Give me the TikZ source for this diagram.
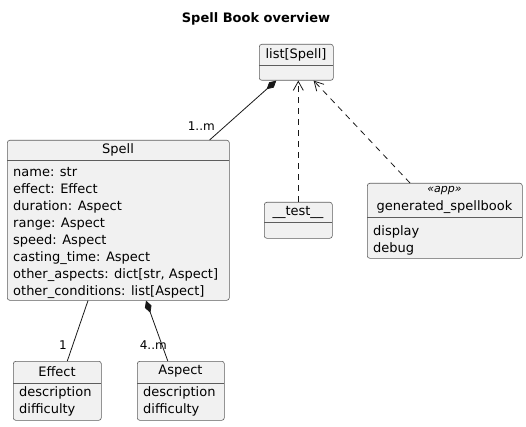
\documentclass[tikz,border=0pt]{standalone}
\usepackage{fontspec}
\setmainfont{DejaVu Sans}
\usetikzlibrary{arrows.meta}
\definecolor{boxfill}{HTML}{F1F1F1}
\definecolor{boxline}{HTML}{181818}
\tikzset{
  box/.style={draw=boxline!70, fill=boxfill, line width=0.6pt, rounded corners=2.5pt, inner sep=0pt, anchor=north west},
  sep/.style={draw=boxline!70, line width=0.6pt},
  txt/.style={inner sep=0pt, font=\fontsize{13}{16}\selectfont},
  attr/.style={txt, anchor=west, align=left, font=\fontsize{13}{17}\selectfont},
  lbl/.style={inner sep=0pt, font=\fontsize{12}{14}\selectfont},
  conn/.style={draw=boxline, line width=0.8pt},
  dashconn/.style={conn, dash pattern=on 6pt off 5pt},
  openarr/.style={-{Straight Barb[length=9pt,width=10pt,line width=0.8pt]}},
  diamtip/.style={-{Diamond[length=13pt,width=7pt,fill=boxline]}},
}
\begin{document}
\begin{tikzpicture}[x=1pt,y=-1pt]
\useasboundingbox (0,0) rectangle (526,427);
\node[inner sep=0pt, font=\fontsize{13}{16}\selectfont\bfseries] (title) at (256,19) {Spell Book overview};

% list[Spell]
\node[box, minimum width=74pt, minimum height=36pt] (list) at (259,44) {};
\draw[sep] (259,65) -- (333,65);
\node[txt] (listname) at (296,54.5) {list[Spell]};

% Spell
\node[box, minimum width=222pt, minimum height=160pt] (spell) at (7,140) {};
\draw[sep] (7,160) -- (229,160);
\node[txt] (spellname) at (118,150) {Spell};
\node[attr] (spellattr) at (13,233) {name: str\\effect: Effect\\duration: Aspect\\range: Aspect\\speed: Aspect\\casting\_time: Aspect\\other\_aspects: dict[str, Aspect]\\other\_conditions: list[Aspect]};

% __test__
\node[box, minimum width=68pt, minimum height=36pt] (test) at (264,202) {};
\draw[sep] (264,222) -- (332,222);
\node[txt] (testname) at (298,212) {\_\_test\_\_};

% generated_spellbook
\node[box, minimum width=155pt, minimum height=75pt] (gen) at (367,183) {};
\draw[sep] (367,217) -- (522,217);
\node[inner sep=0pt, font=\fontsize{11}{13}\selectfont\itshape] (genst) at (444.5,191) {«app»};
\node[txt] (genname) at (444.5,207) {generated\_spellbook};
\node[attr] (genattr) at (373,240) {display\\debug};

% Effect
\node[box, minimum width=88pt, minimum height=59pt] (effect) at (13,361) {};
\draw[sep] (13,383) -- (101,383);
\node[txt] (effectname) at (57,371.5) {Effect};
\node[attr] (effectattr) at (19,401.5) {description\\difficulty};

% Aspect
\node[box, minimum width=87pt, minimum height=59pt] (aspect) at (137,361) {};
\draw[sep] (137,383) -- (224,383);
\node[txt] (aspectname) at (180.5,371.5) {Aspect};
\node[attr] (aspectattr) at (143,401.5) {description\\difficulty};

% connectors
\draw[conn, diamtip] ([xshift=-20pt]spell.north east) -- ([xshift=-20pt]list.south);
\node[lbl, anchor=east] (l1) at (215,126) {1..m};
\draw[dashconn, openarr] (test.north) -- (test.north |- list.south);
\draw[dashconn, openarr] ([xshift=43pt]gen.north west) -- ([xshift=-20pt]list.south east);
\draw[conn] ([xshift=81pt]spell.south west) -- ([xshift=10pt]effect.north);
\node[lbl, anchor=east] (l2) at (67,345) {1};
\draw[conn, diamtip] ([xshift=-13pt]aspect.north) -- ([xshift=139pt]spell.south west);
\node[lbl, anchor=east] (l3) at (167,345) {4..m};
\end{tikzpicture}
\end{document}
